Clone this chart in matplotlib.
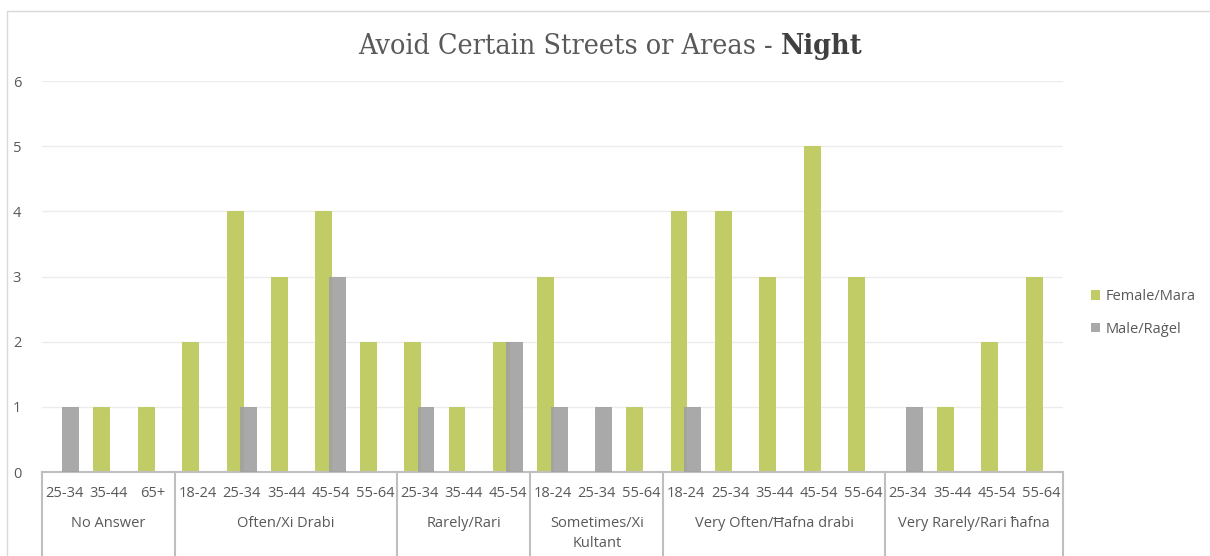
import matplotlib
matplotlib.use("Agg")
import matplotlib.pyplot as plt
from matplotlib.lines import Line2D
from matplotlib.patches import Rectangle
import numpy as np

plt.rcParams['font.family'] = ['Open Sans', 'DejaVu Sans']

groups = ["No Answer", "Often/Xi Drabi", "Rarely/Rari", "Sometimes/Xi\nKultant",
          "Very Often/Ħafna drabi", "Very Rarely/Rari ħafna"]
ages = [
    ["25-34", "35-44", "65+"],
    ["18-24", "25-34", "35-44", "45-54", "55-64"],
    ["25-34", "35-44", "45-54"],
    ["18-24", "25-34", "55-64"],
    ["18-24", "25-34", "35-44", "45-54", "55-64"],
    ["25-34", "35-44", "45-54", "55-64"],
]
female = [
    [0, 1, 1],
    [2, 4, 3, 4, 2],
    [2, 1, 2],
    [3, 0, 1],
    [4, 4, 3, 5, 3],
    [0, 1, 2, 3],
]
male = [
    [1, 0, 0],
    [0, 1, 0, 3, 0],
    [1, 0, 2],
    [1, 1, 0],
    [1, 0, 0, 0, 0],
    [1, 0, 0, 0],
]
series_names = ["Female/Mara", "Male/Raġel"]
title_main = "Avoid Certain Streets or Areas - "
title_bold = "Night"

W, H = 1210, 556
fig = plt.figure(figsize=(W / 100, H / 100), dpi=100)
x0, x1, y0, y1 = 42, 1063, 472, 81
ax = fig.add_axes([x0 / W, 1 - y0 / H, (x1 - x0) / W, (y0 - y1) / H])

fem = [v for g in female for v in g]
mal = [v for g in male for v in g]
labels = [a for g in ages for a in g]
n = len(labels)
x = np.arange(n)

green = "#c2cc66"
grey = "#a0a0a0"
bw = 0.38
off = 0.15
ax.bar(x - off, fem, width=bw, color=green, label=series_names[0], zorder=2)
ax.bar(x + off, mal, width=bw, color=grey, alpha=0.9, label=series_names[1], zorder=3)

ax.set_xlim(-0.5, n - 0.5)
ax.set_ylim(0, 6)
ax.set_yticks(range(7))
ax.yaxis.grid(True, color="#ececec", linewidth=1, zorder=0)
ax.set_axisbelow(True)
for s in ["top", "right", "left"]:
    ax.spines[s].set_visible(False)
ax.spines["bottom"].set_color("#bfbfbf")
ax.spines["bottom"].set_linewidth(1.5)
ax.tick_params(axis="y", length=0, pad=15, labelsize=10.5, labelcolor="#595959")
ax.tick_params(axis="x", length=0, pad=10, labelsize=10.5, labelcolor="#595959")
ax.set_xticks(x)
ax.set_xticklabels(labels)

# group labels and separators
trans = ax.get_xaxis_transform()
start = 0
bounds = [-0.5]
for g, a in zip(groups, ages):
    end = start + len(a)
    center = (start + end - 1) / 2
    ax.text(center, -44 / (y0 - y1), g, transform=trans, ha="center", va="top",
            fontsize=10.5, color="#595959", linespacing=1.45)
    bounds.append(end - 0.5)
    start = end
for b in bounds:
    ax.add_line(Line2D([b, b], [0, -(H - y0) / (y0 - y1)], transform=trans,
                       color="#bfbfbf", linewidth=1.5, clip_on=False))

# title
t1 = fig.text(0, 0, title_main, fontsize=20.5, color="#595959",
              family="DejaVu Serif", fontstretch="condensed")
fig.canvas.draw()
r = fig.canvas.get_renderer()
bb1 = t1.get_window_extent(r)
t2 = fig.text(0, 0, title_bold, fontsize=20.5, color="#404040", fontweight="bold",
              family="DejaVu Serif", fontstretch="condensed")
bb2 = t2.get_window_extent(r)
total = bb1.width + bb2.width
xs = (610 - total / 2) / W
yb = 1 - 54 / H
t1.set_position((xs, yb))
t2.set_position((xs + bb1.width / W, yb))

leg = fig.legend(loc="center left", bbox_to_anchor=(1078 / W, 1 - 313 / H), frameon=False,
                 fontsize=10.5, labelcolor="#595959", handlelength=0.6, handleheight=0.6,
                 handletextpad=0.4, labelspacing=1.2)

# outer frame
fig.patches.append(Rectangle((7 / W, -0.1), 1.2, 1 - 11 / H + 0.1, transform=fig.transFigure,
                             fill=False, edgecolor="#d9d9d9", linewidth=1))

fig.savefig("out.png", dpi=100)
